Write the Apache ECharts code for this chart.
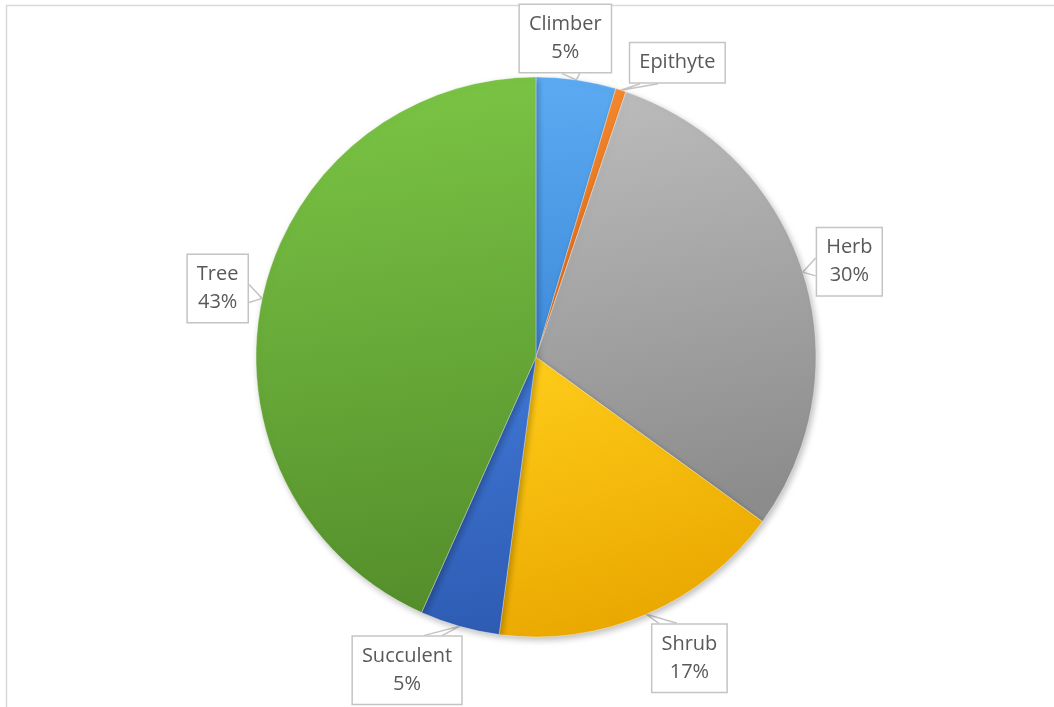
<!DOCTYPE html>
<html>
<head>
<meta charset="utf-8">
<script src="https://cdn.jsdelivr.net/npm/echarts@6/dist/echarts.min.js"></script>
<style>
  html, body { margin: 0; padding: 0; background: #ffffff; }
  #chart { width: 1054px; height: 707px; }
</style>
</head>
<body>
<div id="chart"></div>
<script>
// Plant growth forms, share of species (%)
const categories = ['Climber', 'Epithyte', 'Herb', 'Shrub', 'Succulent', 'Tree'];
const shares = [4.6, 0.6, 29.8, 17.1, 4.6, 43.3];
// Whether the callout shows the percentage line under the name
const showPercent = [true, false, true, true, true, true];

// Slice fills: lighter top, darker bottom
const fillTop = ['#5cabf2', '#f68a2e', '#bdbdbd', '#ffcd1a', '#4078d6', '#7cc746'];
const fillBottom = ['#3e8ad9', '#d9661a', '#8c8c8c', '#eaa800', '#2e5cb3', '#558f2c'];

// Callout box centre, relative to the point on the rim the callout points at
const calloutOffsets = [[-11, -41.5], [56.5, -27.5], [46.5, -10.5], [43, 44], [-52.5, 44], [-44.5, -10]];

const CX = 536, CY = 357, R = 280;

const total = shares.reduce((a, b) => a + b, 0);
const midAngles = [];
let acc = 0;
shares.forEach(v => {
  midAngles.push((acc + v / 2) / total * 2 * Math.PI);
  acc += v;
});

function rimPoint(i) {
  const a = midAngles[i];
  return [CX + R * Math.sin(a), CY - R * Math.cos(a)];
}

const chart = echarts.init(document.getElementById('chart'), null, { renderer: 'canvas' });

const option = {
  backgroundColor: '#ffffff',
  animation: false,
  graphic: [{
    type: 'rect',
    shape: { x: 6.5, y: 5.5, width: 1100, height: 800 },
    style: { fill: null, stroke: '#d9d9d9', lineWidth: 1.5 },
    z: 0
  }],
  series: [{
    type: 'pie',
    center: [CX, CY],
    radius: [0, R],
    startAngle: 90,
    clockwise: true,
    avoidLabelOverlap: false,
    data: categories.map((name, i) => ({
      name: name,
      value: shares[i],
      itemStyle: {
        color: {
          type: 'linear', x: 0, y: 0, x2: 0.3, y2: 1,
          colorStops: [
            { offset: 0, color: fillTop[i] },
            { offset: 1, color: fillBottom[i] }
          ]
        }
      }
    })),
    itemStyle: {
      borderColor: 'rgba(255,255,255,0.35)',
      borderWidth: 1,
      shadowBlur: 6,
      shadowColor: 'rgba(0,0,0,0.25)',
      shadowOffsetX: 2,
      shadowOffsetY: 3
    },
    label: {
      show: true,
      position: 'outside',
      formatter: p => showPercent[p.dataIndex]
        ? p.name + '\n' + Math.round(p.percent) + '%'
        : p.name,
      fontFamily: '"Open Sans", "Noto Sans", sans-serif',
      fontSize: 20,
      lineHeight: 28,
      color: '#595959',
      backgroundColor: '#ffffff',
      borderColor: '#c4c4c4',
      borderWidth: 1.5,
      padding: [6, 9, 5, 9],
      align: 'center'
    },
    labelLine: {
      show: true,
      length: 10,
      length2: 0,
      smooth: false,
      lineStyle: { color: '#c4c4c4', width: 1.5 }
    },
    labelLayout: function (params) {
      const i = params.dataIndex;
      const tip = rimPoint(i);
      const off = calloutOffsets[i];
      const w = params.labelRect.width;
      const h = params.labelRect.height;
      const cx = tip[0] + off[0];
      const cy = tip[1] + off[1];
      const bx = cx - w / 2, by = cy - h / 2;
      const dx = tip[0] - cx, dy = tip[1] - cy;
      let pts;
      const half = 9;
      if (Math.abs(dy) / h > Math.abs(dx) / w) {
        const ey = dy > 0 ? by + h : by;
        let m = (tip[0] + cx) / 2;
        m = Math.min(Math.max(m, bx + half + 4), bx + w - half - 4);
        pts = [[m - half, ey], tip, [m + half, ey]];
      } else {
        const ex = dx > 0 ? bx + w : bx;
        let m = (tip[1] + cy) / 2;
        m = Math.min(Math.max(m, by + half + 4), by + h - half - 4);
        pts = [[ex, m - half], tip, [ex, m + half]];
      }
      return {
        x: cx,
        y: cy,
        align: 'center',
        verticalAlign: 'middle',
        labelLinePoints: pts
      };
    }
  }]
};

chart.setOption(option);
</script>
</body>
</html>
